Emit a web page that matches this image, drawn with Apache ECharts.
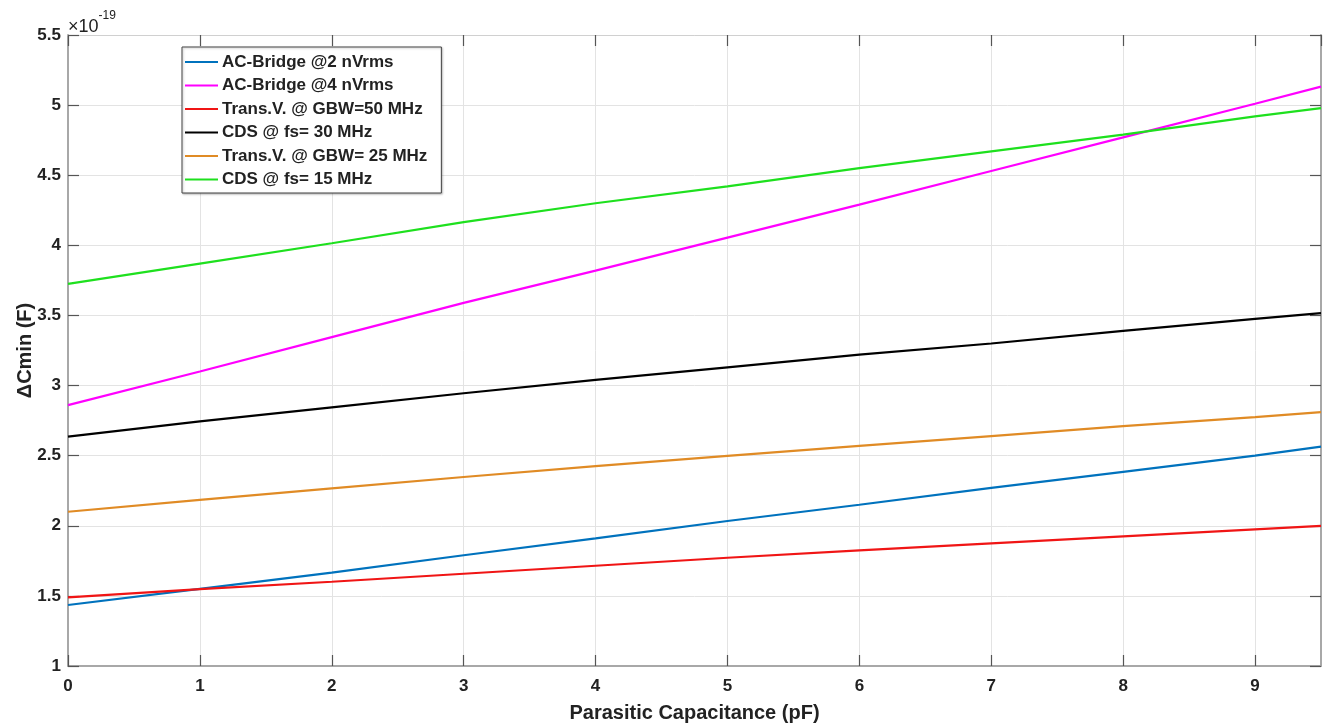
<!DOCTYPE html>
<html>
<head>
<meta charset="utf-8">
<script src="https://cdn.jsdelivr.net/npm/echarts@6/dist/echarts.min.js"></script>
<style>
html,body{margin:0;padding:0;background:#fff;}
#chart{width:1326px;height:724px;}
</style>
</head>
<body>
<div id="chart"></div>
<script>
// Parasitic capacitance (pF)
const xValues = [0, 1, 2, 3, 4, 5, 6, 7, 8, 9, 9.5];
// ΔCmin values in units of 1e-19 F
const acBridge2 = [1.435, 1.55, 1.666, 1.79, 1.91, 2.034, 2.15, 2.27, 2.385, 2.50, 2.564];
const acBridge4 = [2.86, 3.10, 3.345, 3.59, 3.82, 4.055, 4.29, 4.53, 4.77, 5.01, 5.132];
const transV50 = [1.49, 1.548, 1.601, 1.658, 1.715, 1.772, 1.825, 1.875, 1.925, 1.975, 1.999];
const cds30 = [2.636, 2.745, 2.845, 2.945, 3.04, 3.13, 3.22, 3.30, 3.39, 3.475, 3.516];
const transV25 = [2.10, 2.185, 2.267, 2.348, 2.425, 2.499, 2.57, 2.64, 2.71, 2.775, 2.81];
const cds15 = [3.725, 3.87, 4.015, 4.165, 4.30, 4.42, 4.55, 4.67, 4.79, 4.92, 4.978];

const seriesNames = ['AC-Bridge @2 nVrms', 'AC-Bridge @4 nVrms', 'Trans.V. @ GBW=50 MHz',
  'CDS @ fs= 30 MHz', 'Trans.V. @ GBW= 25 MHz', 'CDS @ fs= 15 MHz'];
const seriesValues = [acBridge2, acBridge4, transV50, cds30, transV25, cds15];
const seriesColors = ['#0072BD', '#FF00FF', '#F01515', '#000000', '#E08B25', '#1EE01E'];

const xTicks = { min: 0, max: 9.5, interval: 1 };
const yTicks = { min: 1, max: 5.5, interval: 0.5 };
const exponentLabel = '-19';

const font = '"Liberation Sans", Arial, Helvetica, sans-serif';
const axisLineColor = '#a8a8a8';
const tickColor = '#555';

const chart = echarts.init(document.getElementById('chart'), null, { renderer: 'canvas' });

const series = seriesNames.map((name, i) => ({
  name: name,
  type: 'line',
  xAxisIndex: 0,
  yAxisIndex: 0,
  data: xValues.map((x, j) => [x, seriesValues[i][j]]),
  symbol: 'none',
  showSymbol: false,
  smooth: false,
  lineStyle: { width: 2.2, color: seriesColors[i] },
  itemStyle: { color: seriesColors[i] },
  emphasis: { disabled: true },
  z: 3
}));

const option = {
  animation: false,
  backgroundColor: '#fff',
  grid: { left: 68, right: 5, top: 35, bottom: 58, containLabel: false, outerBoundsMode: 'none' },
  legend: {
    orient: 'vertical',
    left: 182,
    top: 47,
    data: seriesNames,
    icon: 'rect',
    itemWidth: 33,
    itemHeight: 2.2,
    itemGap: 6.5,
    padding: [6.5, 14, 5, 3],
    backgroundColor: '#fff',
    borderColor: '#444',
    borderWidth: 1,
    shadowColor: 'rgba(0,0,0,0.25)',
    shadowBlur: 2,
    shadowOffsetX: 1,
    shadowOffsetY: 1,
    textStyle: { fontFamily: font, fontWeight: 'bold', fontSize: 17, color: '#222', lineHeight: 17, padding: [0, 0, 0, -1] },
    selectedMode: false
  },
  xAxis: [{
    type: 'value',
    min: xTicks.min, max: xTicks.max, interval: xTicks.interval,
    position: 'bottom',
    name: 'Parasitic Capacitance (pF)',
    nameLocation: 'middle',
    nameGap: 37,
    nameMoveOverlap: false,
    nameTextStyle: { fontFamily: font, fontWeight: 'bold', fontSize: 20, color: '#222' },
    axisLine: { show: true, onZero: false, lineStyle: { color: axisLineColor, width: 2 } },
    axisTick: { show: true, inside: true, length: 11, lineStyle: { color: tickColor, width: 1.2 } },
    axisLabel: { showMaxLabel: false, margin: 12, fontFamily: font, fontWeight: 'bold', fontSize: 17, color: '#222' },
    splitLine: { show: true, lineStyle: { color: '#e3e3e3', width: 1 } }
  }, {
    type: 'value',
    min: xTicks.min, max: xTicks.max, interval: xTicks.interval,
    position: 'top',
    axisLine: { show: true, onZero: false, lineStyle: { color: '#d0d0d0', width: 1 } },
    axisTick: { show: true, inside: true, length: 11, lineStyle: { color: tickColor, width: 1.2 } },
    axisLabel: { show: false },
    splitLine: { show: false }
  }],
  yAxis: [{
    type: 'value',
    min: yTicks.min, max: yTicks.max, interval: yTicks.interval,
    position: 'left',
    name: 'ΔCmin (F)',
    nameLocation: 'middle',
    nameGap: 33,
    nameMoveOverlap: false,
    nameRotate: 90,
    nameTextStyle: { fontFamily: font, fontWeight: 'bold', fontSize: 20, color: '#222' },
    axisLine: { show: true, onZero: false, lineStyle: { color: axisLineColor, width: 2 } },
    axisTick: { show: true, inside: true, length: 11, lineStyle: { color: tickColor, width: 1.2 } },
    axisLabel: { margin: 7, fontFamily: font, fontWeight: 'bold', fontSize: 17, color: '#222' },
    splitLine: { show: true, lineStyle: { color: '#e3e3e3', width: 1 } }
  }, {
    type: 'value',
    min: yTicks.min, max: yTicks.max, interval: yTicks.interval,
    position: 'right',
    axisLine: { show: true, onZero: false, lineStyle: { color: axisLineColor, width: 2 } },
    axisTick: { show: true, inside: true, length: 11, lineStyle: { color: tickColor, width: 1.2 } },
    axisLabel: { show: false },
    splitLine: { show: false }
  }],
  graphic: [{
    type: 'text',
    left: 68,
    top: 10,
    style: {
      text: '{a|×10}{b|' + exponentLabel + '}',
      rich: {
        a: { fontFamily: font, fontSize: 18, fill: '#222', verticalAlign: 'bottom', lineHeight: 26 },
        b: { fontFamily: font, fontSize: 12, fill: '#222', verticalAlign: 'top', lineHeight: 26, padding: [0, 0, 8, 0] }
      }
    }
  }],
  series: series
};

chart.setOption(option);
</script>
</body>
</html>
